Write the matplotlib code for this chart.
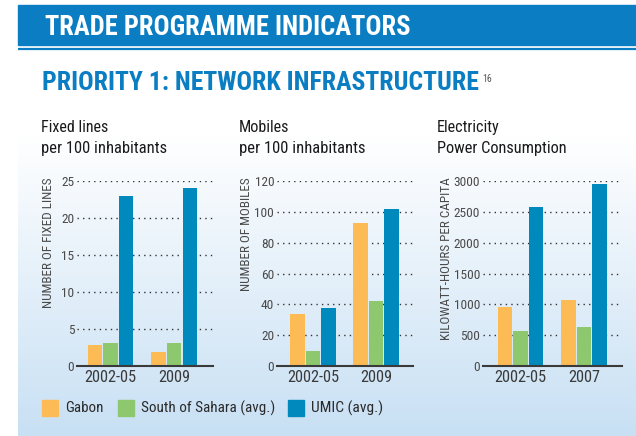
import numpy as np
import matplotlib
matplotlib.use('Agg')
import matplotlib.pyplot as plt
from matplotlib.patches import Rectangle
from matplotlib.colors import LinearSegmentedColormap

FONT = ['Roboto Condensed', 'Roboto', 'DejaVu Sans']
plt.rcParams['font.family'] = FONT

# data
fixed_periods = ['2002-05', '2009']
fixed_gabon = [2.8, 1.9]
fixed_ssa = [3.1, 3.1]
fixed_umic = [23.0, 24.0]

mobile_periods = ['2002-05', '2009']
mobile_gabon = [33.7, 92.8]
mobile_ssa = [9.9, 42.2]
mobile_umic = [37.6, 101.8]

elec_periods = ['2002-05', '2007']
elec_gabon = [957, 1070]
elec_ssa = [568, 632]
elec_umic = [2578, 2951]

series_names = ['Gabon', 'South of Sahara (avg.)', 'UMIC (avg.)']
series_colors = ['#FDBB55', '#8DC76E', '#0089BD']

HEAD_BLUE = '#0B7DC2'
W, H = 636, 436

fig = plt.figure(figsize=(W / 100, H / 100), dpi=100)
renderer = fig.canvas.get_renderer()


def fit(t, length, vertical=False):
    # shrink/grow font so the text spans `length` pixels
    bb = t.get_window_extent(renderer)
    cur = bb.height if vertical else bb.width
    t.set_fontsize(t.get_fontsize() * length / cur)


# background layer in pixel coords (y down)
bg = fig.add_axes([0, 0, 1, 1])
bg.axis('off')

cmap = LinearSegmentedColormap.from_list('panel', [(0, '#ffffff'), (0.22, '#ffffff'), (1, '#C8E0F4')])
grad = np.linspace(0, 1, 256).reshape(-1, 1)
bg.imshow(grad, cmap=cmap, extent=(18, W, H, 51), aspect='auto', zorder=0)
bg.set_xlim(0, W)
bg.set_ylim(H, 0)

bg.add_patch(Rectangle((18, 5), W - 18, 40, color=HEAD_BLUE, zorder=1))
bg.plot([18, W], [49.5, 49.5], color=HEAD_BLUE, lw=1.6, zorder=1, solid_capstyle='butt')

t = bg.text(45, 35, 'TRADE PROGRAMME INDICATORS', color='white', fontsize=17.5,
            fontweight='bold', va='baseline', ha='left', zorder=2)
fit(t, 365)
t = bg.text(42, 89.5, 'PRIORITY 1: NETWORK INFRASTRUCTURE', color=HEAD_BLUE, fontsize=16.5,
            fontweight='bold', va='baseline', ha='left', zorder=2)
fit(t, 436)
bg.text(482, 82, '16', color='#555555', fontsize=7, va='baseline', ha='left', zorder=2)


def px_box(x0, y_top, x1, y_bot):
    return [x0 / W, (H - y_bot) / H, (x1 - x0) / W, (y_bot - y_top) / H]


charts = [
    dict(box=(77, 181, 213, 366), xlim=(-0.528, 1.61), periods=fixed_periods,
         vals=[fixed_gabon, fixed_ssa, fixed_umic], ticks=[0, 5, 10, 15, 20, 25],
         title=('Fixed lines', 'per 100 inhabitants'), tw=(68, 126), tx=41,
         ylabel='NUMBER OF FIXED LINES', lw=131, lx=49),
    dict(box=(277, 181, 413, 366), xlim=(-0.571, 1.587), periods=mobile_periods,
         vals=[mobile_gabon, mobile_ssa, mobile_umic], ticks=[0, 20, 40, 60, 80, 100, 120],
         title=('Mobiles', 'per 100 inhabitants'), tw=(51, 127), tx=239,
         ylabel='NUMBER OF MOBILES', lw=115, lx=246),
    dict(box=(483, 181, 622, 366), xlim=(-0.59, 1.599), periods=elec_periods,
         vals=[elec_gabon, elec_ssa, elec_umic], ticks=[0, 500, 1000, 1500, 2000, 2500, 3000],
         title=('Electricity', 'Power Consumption'), tw=(63, 131), tx=437,
         ylabel='KILOWATT-HOURS PER CAPITA', lw=163, lx=446),
]

for c in charts:
    ax = fig.add_axes(px_box(*c['box']))
    ax.patch.set_alpha(0)
    x = np.arange(len(c['periods']))
    for i, (vals, col) in enumerate(zip(c['vals'], series_colors)):
        ax.bar(x + (i - 1) * 0.245, vals, 0.228, color=col, zorder=3)
    ax.set_xlim(*c['xlim'])
    ax.set_ylim(c['ticks'][0], c['ticks'][-1])
    ax.set_yticks(c['ticks'])
    ax.set_xticks(x)
    ax.set_xticklabels(c['periods'])
    ax.grid(axis='y', linestyle=(0, (1, 3)), color='#333333', lw=1.0, zorder=1)
    for s in ['left', 'right', 'top']:
        ax.spines[s].set_visible(False)
    ax.spines['bottom'].set_color('#3a3a3a')
    ax.spines['bottom'].set_linewidth(1.5)
    ax.spines['bottom'].set_zorder(4)
    ax.tick_params(axis='y', length=0, pad=2, labelsize=9.6, labelcolor='#4a4a4a')
    ax.tick_params(axis='x', length=0, pad=3, labelsize=11.8, labelcolor='#3a3a3a')

    for line, yb, wpx in zip(c['title'], (132, 153), c['tw']):
        t = bg.text(c['tx'], yb, line, fontsize=12.5, color='#1a1a1a', va='baseline', ha='left')
        fit(t, wpx)
    t = bg.text(c['lx'], 177, c['ylabel'], rotation=90, fontsize=9, color='#4a4a4a',
                va='top', ha='center')
    fit(t, c['lw'], vertical=True)

# legend
leg_x = [42, 118, 288]
leg_w = [38, 133, 72]
for lx, name, col, wpx in zip(leg_x, series_names, series_colors, leg_w):
    bg.add_patch(Rectangle((lx, 400), 16, 15.5, color=col, zorder=2))
    t = bg.text(lx + 23, 408, name, fontsize=13, color='#2a2a2a', va='center', ha='left')
    fit(t, wpx)

fig.savefig('out.png', dpi=100)
